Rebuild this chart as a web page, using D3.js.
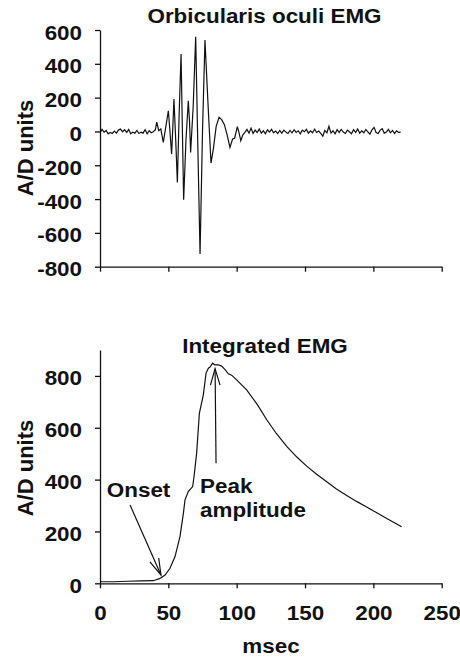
<!DOCTYPE html>
<html>
<head>
<meta charset="utf-8">
<script src="https://cdn.jsdelivr.net/npm/d3@7"></script>
<style>
  body { margin: 0; background: #fff; }
  text { font-family: "Liberation Sans", Arial, sans-serif; font-weight: bold; fill: #111; }
</style>
</head>
<body>
<div id="vis"></div>
<script>
// frame
const FRAME_WIDTH = 460;
const FRAME_HEIGHT = 659;
const FONT = 20;
const STRETCH = 1.12;   // the scanned text is a bit wider than plain Arial

// shared x axis (msec)
const xTicks = [0, 50, 100, 150, 200, 250];

// raw EMG (top panel)
const emgTicks = [-800, -600, -400, -200, 0, 200, 400, 600];
const emgTime = [
  0, 1.5, 3, 4.5, 6, 7.5, 9, 10.5, 12, 13.5, 15, 16.5, 18, 19.5, 21, 22.5, 24, 25.5, 27, 28.5,
  30, 31.5, 33, 34.5, 36, 37.5, 39,
  40.5, 41.5, 43, 44.5, 46.3, 48, 50, 51, 52.4, 53.3, 54.1, 55.4, 56.6, 57.9, 59.3, 60.3, 61.2,
  62.9, 64.6, 65.5, 66.3, 68.2, 70, 71.6, 73.2, 75, 76.8, 78.8, 81.2, 83, 85, 87.1, 89, 91, 93,
  95.1, 97, 98.5, 100.5, 101.8, 103, 104.5, 106, 107.5, 109,
  110.5, 112, 113.5, 115, 116.5, 118, 119.5, 121, 122.5, 124, 125.5, 127, 128.5, 130, 131.5,
  133, 134.5, 136, 137.5, 139, 140.5, 142, 143.5, 145, 146.5, 148, 149.5, 151, 152.5, 154,
  155.5, 157, 158.5, 160, 161.5, 163, 164.5, 166, 167.5, 169, 170.5, 172, 173.5, 175, 176.5,
  178, 179.5, 181, 182.5, 184, 185.5, 187, 188.5, 190, 191.5, 193, 194.5, 196, 197.5, 199,
  200.5, 202, 203.5, 205, 206.5, 208, 209.5, 211, 212.5, 214, 215.5, 217, 218.5, 220
];
const emgValue = [
  -8, 12, -4, 6, -14, -6, -12, 2, -10, 8, 14, -2, 10, -6, 12, -14, -4, -10, 6, -12,
  -4, -10, 10, -14, 4, -8, -2,
  10, 55, 5, 15, -65, 20, 122, 20, -134, 30, 192, -50, -302, 100, 458, 0, -404,
  -50, 181, 60, -124, 150, 560, -100, -725, 0, 541, 200, -187, -100, 30, 83, 70, 40, -20,
  -95, -45, -40, 28, -10, -55, -20, -5, 12, -10,
  20, -12, 8, -6, 14, -10, 4, -14, 10, -4, 12, -8, 2, -12, 6,
  -10, 8, -4, -12, 6, -8, 10, -6, 4, -14, 8, -2, 12, -10, 4,
  -8, 14, -6, 2, -12, -28, 6, -8, 30, -10, 4, -14, 10, -6, 12,
  -4, -12, 8, -2, -14, 10, -6, 14, -10, 4, -8, 12, -2, -16, 10,
  24, -6, -12, 8, 16, -10, -4, 12, -8, 6, -12, 4, -6, -4
];

// integrated EMG (bottom panel)
const iemgTicks = [0, 200, 400, 600, 800];
const iemgTime = [
  0, 10, 20, 30, 39, 43.9, 47.6, 51.2, 54.9, 58.5, 61, 62.2, 64.6, 67.8, 68.8, 70.7, 72.7,
  75.6, 77.6, 79.3, 80.5, 82.4, 84, 86.6, 89, 91.5, 93.9, 96.3, 100, 107.3, 115, 122, 129,
  136.6, 144, 151.2, 158.5, 165.9, 173, 180.5, 188, 195.1, 202.5, 209.8, 220.7
];
const iemgValue = [
  6, 6, 8, 9, 10, 19, 32, 58, 103, 180, 270, 322, 354, 373, 412, 502, 656,
  727, 811, 830, 834, 849, 843, 843, 838, 824, 808, 803, 785, 746, 690, 631, 578,
  528, 487, 452, 421, 392, 364, 339, 315, 294, 272, 250, 218
];

// annotations, in data units of the bottom panel
const onsetLabel = {text: "Onset", t: 5, v: 334};
const onsetArrow = {t0: 22, v0: 302, t1: 44.6, v1: 32};
const peakLabel = [{text: "Peak", t: 73.2, v: 347}, {text: "amplitude", t: 73.2, v: 257}];
const peakArrow = {t0: 84.9, v0: 463, t1: 84.2, v1: 828};

const svg = d3.select("#vis")
  .append("svg")
    .attr("width", FRAME_WIDTH)
    .attr("height", FRAME_HEIGHT);

svg.append("defs").append("marker")
    .attr("id", "head")
    .attr("viewBox", "-18 -6 20 12")
    .attr("refX", 0).attr("refY", 0)
    .attr("markerWidth", 20).attr("markerHeight", 12)
    .attr("markerUnits", "userSpaceOnUse")
    .attr("orient", "auto")
  .append("path")
    .attr("d", "M-16.5,-4.8L0,0L-16.5,4.8")
    .attr("fill", "none")
    .attr("stroke", "#111")
    .attr("stroke-width", 1.2);

function stretch(sel) {
  sel.each(function () {
    const w = this.getComputedTextLength();
    d3.select(this).attr("textLength", w * STRETCH).attr("lengthAdjust", "spacingAndGlyphs");
  });
}

// plain hyphen for negatives, like the original
const plain = d => String(d);

const X = d3.scaleLinear().domain([0, 250]).range([100, 441.7]);
const Y_TOP = d3.scaleLinear().domain([-800, 600]).range([266.7, 30]);
const Y_BOT = d3.scaleLinear().domain([0, 900]).range([583.3, 350]);

function styleAxis(g) {
  g.attr("font-size", FONT).attr("font-family", null);
  g.selectAll("path, line").attr("stroke", "#111").attr("stroke-width", 1.3);
}

// ---- top panel ----
const yTop = svg.append("g")
    .attr("transform", "translate(" + X(0) + ",0)")
    .call(d3.axisLeft(Y_TOP).tickValues(emgTicks).tickFormat(plain)
      .tickSize(5).tickSizeOuter(0).tickPadding(13))
    .call(styleAxis);
yTop.selectAll("text").attr("dy", "0.45em").call(stretch);

svg.append("g")
    .attr("transform", "translate(0," + Y_TOP(-800) + ")")
    .call(d3.axisBottom(X).tickValues(xTicks).tickSize(5).tickSizeOuter(0).tickFormat(""))
    .call(styleAxis);

svg.append("path")
    .datum(d3.zip(emgTime, emgValue))
    .attr("fill", "none")
    .attr("stroke", "#111")
    .attr("stroke-width", 1.2)
    .attr("d", d3.line().x(d => X(d[0])).y(d => Y_TOP(d[1])));

svg.append("text")
    .attr("x", 264.5).attr("y", 23)
    .attr("text-anchor", "middle")
    .attr("font-size", FONT)
    .text("Orbicularis oculi EMG")
    .call(stretch);

svg.append("text")
    .attr("transform", "translate(33," + 148 + ") rotate(-90)")
    .attr("text-anchor", "middle")
    .attr("font-size", 22)
    .text("A/D units");

// ---- bottom panel ----
const yBot = svg.append("g")
    .attr("transform", "translate(" + X(0) + ",0)")
    .call(d3.axisLeft(Y_BOT).tickValues(iemgTicks).tickFormat(plain)
      .tickSize(5).tickSizeOuter(0).tickPadding(13))
    .call(styleAxis);
yBot.selectAll("text").attr("dy", "0.45em").call(stretch);

const xBot = svg.append("g")
    .attr("transform", "translate(0," + Y_BOT(0) + ")")
    .call(d3.axisBottom(X).tickValues(xTicks).tickFormat(plain)
      .tickSize(5).tickSizeOuter(0).tickPadding(18))
    .call(styleAxis);
xBot.selectAll("text").call(stretch);

svg.append("path")
    .datum(d3.zip(iemgTime, iemgValue))
    .attr("fill", "none")
    .attr("stroke", "#111")
    .attr("stroke-width", 1.2)
    .attr("d", d3.line().x(d => X(d[0])).y(d => Y_BOT(d[1])));

svg.append("text")
    .attr("x", 265).attr("y", 353)
    .attr("text-anchor", "middle")
    .attr("font-size", FONT)
    .text("Integrated EMG")
    .call(stretch);

svg.append("text")
    .attr("transform", "translate(33," + 468 + ") rotate(-90)")
    .attr("text-anchor", "middle")
    .attr("font-size", 22)
    .text("A/D units");

svg.append("text")
    .attr("x", 271).attr("y", 653)
    .attr("text-anchor", "middle")
    .attr("font-size", FONT)
    .text("msec")
    .call(stretch);

// annotations
svg.append("text")
    .attr("x", X(onsetLabel.t)).attr("y", Y_BOT(onsetLabel.v))
    .attr("font-size", FONT)
    .text(onsetLabel.text)
    .call(stretch);

svg.selectAll(".peak")
  .data(peakLabel)
  .enter()
  .append("text")
    .attr("class", "peak")
    .attr("x", d => X(d.t)).attr("y", d => Y_BOT(d.v))
    .attr("font-size", FONT)
    .text(d => d.text)
    .call(stretch);

svg.selectAll(".arrow")
  .data([onsetArrow, peakArrow])
  .enter()
  .append("line")
    .attr("class", "arrow")
    .attr("x1", d => X(d.t0)).attr("y1", d => Y_BOT(d.v0))
    .attr("x2", d => X(d.t1)).attr("y2", d => Y_BOT(d.v1))
    .attr("stroke", "#111")
    .attr("stroke-width", 1.2)
    .attr("marker-end", "url(#head)");
</script>
</body>
</html>
